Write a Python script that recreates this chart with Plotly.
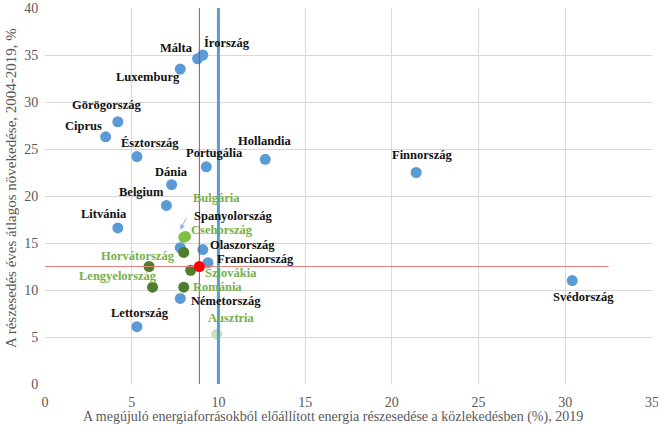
import plotly.graph_objects as go

# ---- data ----
countries = ["Málta", "Írország", "Luxemburg", "Görögország", "Ciprus", "Észtország",
             "Hollandia", "Portugália", "Dánia", "Belgium", "Litvánia", "Spanyolország",
             "Olaszország", "Franciaország", "Németország", "Lettország", "Finnország",
             "Svédország", "Bulgária", "Csehország", "Ausztria", "Horvátország",
             "Lengyelország", "Szlovákia", "Románia", "Magyarország"]
res_share_2019 = [8.8, 9.1, 7.8, 4.2, 3.5, 5.3,
                  12.7, 9.3, 7.3, 7.0, 4.2, 7.8,
                  9.1, 9.4, 7.8, 5.3, 21.4,
                  30.4, 8.1, 8.0, 9.9, 6.0,
                  6.2, 8.4, 8.0, 8.0]
avg_growth = [34.6, 35.0, 33.5, 27.9, 26.3, 24.2,
              23.9, 23.1, 21.2, 19.0, 16.6, 14.5,
              14.3, 12.9, 9.1, 6.1, 22.5,
              11.0, 15.7, 15.6, 5.3, 12.5,
              10.3, 12.1, 10.3, 14.0]
groups = ["blue"] * 18 + ["light", "light", "pale", "dark", "dark", "dark", "dark", "dark"]
show_label = [True] * 25 + [False]

eu_share = 8.9      # EU-27 average share
eu_growth = 12.5    # EU-27 average growth
target = 10         # 2020 target
x_ticks = [0, 5, 10, 15, 20, 25, 30, 35]
y_ticks = [0, 5, 10, 15, 20, 25, 30, 35, 40]
h_line_end = 32.5

# ---- styles ----
marker_colors = {"blue": "#5B9BD5", "light": "#7CC046", "pale": "#C9E2B6", "dark": "#4E7D2E"}
label_colors = {"blue": "#111111", "light": "#76B04C", "pale": "#76B04C", "dark": "#76B04C"}
# label offsets in pixels (dx right, dy down)
label_offsets = {
    "Málta": (-21, -11), "Írország": (24, -12), "Luxemburg": (-32, 8),
    "Görögország": (-11, -17), "Ciprus": (-22, -11), "Észtország": (13, -14),
    "Hollandia": (0, -18), "Portugália": (8, -14), "Dánia": (0, -13),
    "Belgium": (-25, -13), "Litvánia": (-14, -14), "Spanyolország": (53, -32),
    "Olaszország": (40, -5), "Franciaország": (47, -4), "Németország": (46, 3),
    "Lettország": (3, -14), "Finnország": (6, -18), "Svédország": (11, 16),
    "Bulgária": (31, -38), "Csehország": (38, -7), "Ausztria": (15, -16),
    "Horvátország": (-11, -11), "Lengyelország": (-35, -11), "Szlovákia": (40, 3),
    "Románia": (34, 0),
}

serif = "Liberation Serif"
fig = go.Figure()

fig.add_trace(go.Scatter(
    x=res_share_2019, y=avg_growth, mode="markers", text=countries,
    marker=dict(size=11, color=[marker_colors[g] for g in groups], line=dict(width=0)),
    hoverinfo="text", showlegend=False))

# reference lines
fig.add_trace(go.Scatter(x=[0, h_line_end], y=[eu_growth, eu_growth], mode="lines",
                         line=dict(color="#E88080", width=1), showlegend=False, hoverinfo="skip"))
fig.add_trace(go.Scatter(x=[eu_share, eu_share], y=[y_ticks[0], y_ticks[-1]], mode="lines",
                         line=dict(color="#C84040", width=1), showlegend=False, hoverinfo="skip"))
fig.add_trace(go.Scatter(x=[target, target], y=[y_ticks[0], y_ticks[-1]], mode="lines",
                         line=dict(color="#5B9BD5", width=3), showlegend=False, hoverinfo="skip"))
fig.add_trace(go.Scatter(x=[eu_share], y=[eu_growth], mode="markers",
                         marker=dict(size=11, color="#FF0000"), showlegend=False, hoverinfo="skip"))

annotations = []
for c, xv, yv, g, s in zip(countries, res_share_2019, avg_growth, groups, show_label):
    if not s:
        continue
    dx, dy = label_offsets[c]
    annotations.append(dict(x=xv, y=yv, xref="x", yref="y", text="<b>%s</b>" % c,
                            showarrow=False, xshift=dx, yshift=-dy,
                            font=dict(family=serif, size=12.5, color=label_colors[g])))

# arrow pointing to Spanyolország
i_es = countries.index("Spanyolország")
annotations.append(dict(x=res_share_2019[i_es], y=avg_growth[i_es], xref="x", yref="y",
                        text="", showarrow=True, arrowhead=2, arrowsize=1, arrowwidth=1,
                        arrowcolor="#8DB4E2", ax=7, ay=-13, yshift=18))

# axis titles
annotations.append(dict(x=-0.055, y=0.52, xref="paper", yref="paper", textangle=-90,
                        xanchor="center", yanchor="middle",
                        text="A részesedés éves átlagos növekedése, 2004-2019, %",
                        showarrow=False, font=dict(family=serif, size=15, color="#595959")))
annotations.append(dict(x=0.475, y=-0.089, xref="paper", yref="paper", yanchor="middle",
                        text="A megújuló energiaforrásokból előállított energia részesedése a közlekedésben (%), 2019",
                        showarrow=False, font=dict(family=serif, size=14, color="#595959")))

fig.update_layout(
    width=658, height=426,
    margin=dict(l=45, r=6, t=8, b=42, autoexpand=False),
    paper_bgcolor="white", plot_bgcolor="white",
    annotations=annotations,
    xaxis=dict(range=[x_ticks[0], x_ticks[-1]], tickvals=x_ticks, showgrid=True,
               gridcolor="#D9D9D9", gridwidth=1, zeroline=False, showline=False,
               tickfont=dict(family=serif, size=14, color="#595959"),
               ticks="outside", ticklen=5, tickcolor="rgba(0,0,0,0)",
               ticklabeloverflow="allow", automargin=False),
    yaxis=dict(range=[y_ticks[0], y_ticks[-1]], tickvals=y_ticks, showgrid=True,
               gridcolor="#D9D9D9", gridwidth=1, zeroline=False, showline=False,
               tickfont=dict(family=serif, size=14, color="#595959"),
               ticks="outside", ticklen=3, tickcolor="rgba(0,0,0,0)", automargin=False),
)

fig.write_html("out.html")
